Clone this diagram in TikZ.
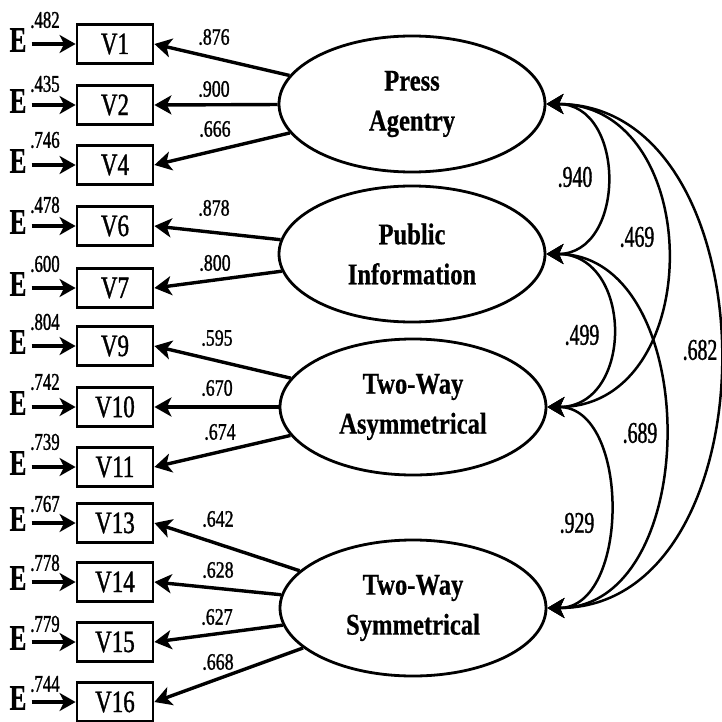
\documentclass[tikz,border=0pt]{standalone}
\usepackage{fontspec}
\setmainfont{Liberation Serif}
\newfontfamily\fontlat[FakeStretch=0.82,FakeBold=0.6]{Liberation Serif}
\newfontfamily\fontobs[FakeStretch=0.74,FakeBold=1.2]{Liberation Serif}
\newfontfamily\fonterr[FakeStretch=0.7,FakeBold=0.8]{Liberation Serif}
\newfontfamily\fontload[FakeStretch=0.76,FakeBold=1.2]{Liberation Serif}
\newfontfamily\fontvar[FakeStretch=0.7,FakeBold=1.2]{Liberation Serif}
\newfontfamily\fontcov[FakeStretch=0.66,FakeBold=1.2]{Liberation Serif}
\usetikzlibrary{shapes.geometric,arrows.meta}

\begin{document}
\begin{tikzpicture}[x=1pt,y=-1pt,
  latent/.style={ellipse,draw,line width=2.8pt,minimum width=266pt,minimum height=136pt,
    inner sep=0pt,align=center,font=\fontlat\bfseries\fontsize{30}{40}\selectfont},
  obs/.style={rectangle,draw,line width=2.8pt,minimum width=76pt,minimum height=39pt,
    inner sep=0pt,font=\fontobs\fontsize{31}{31}\selectfont},
  err/.style={inner sep=0pt,font=\fonterr\bfseries\fontsize{36}{36}\selectfont},
  varlab/.style={inner sep=0pt,font=\fontvar\fontsize{24}{24}\selectfont},
  loadlab/.style={inner sep=0pt,font=\fontload\fontsize{23.5}{24}\selectfont},
  covlab/.style={inner sep=0pt,font=\fontcov\fontsize{30}{30}\selectfont},
  bighead/.tip={Stealth[length=17pt,width=19pt,inset=4.5pt]},
  load/.style={line width=3.4pt,-bighead},
  errarrow/.style={line width=3.4pt,-{Stealth[length=16pt,width=18pt,inset=4.5pt]},shorten <=5pt},
  cov/.style={line width=2.5pt,{Stealth[length=17pt,width=20pt,inset=4.5pt]}-{Stealth[length=17pt,width=20pt,inset=4.5pt]}}
]
\useasboundingbox (0,0) rectangle (721,722);

% latent factors
\node[latent] (PA)  at (412,104) {Press\\Agentry};
\node[latent] (PI)  at (412,254) {Public\\Information};
\node[latent] (TWA) at (413,407) {Two-Way\\Asymmetrical};
\node[latent] (TWS) at (413,608) {Two-Way\\Symmetrical};

% observed indicators with their error terms
\foreach \n/\y/\ev/\ey in {1/44/.482/20, 2/105/.435/84, 4/165/.746/140, 6/226/.478/205,
    7/288/.600/264, 9/346/.804/322, 10/407/.742/382, 11/467/.739/442,
    13/523/.767/504, 14/582/.778/563, 15/642/.779/624, 16/702/.744/684}{
  \node[obs] (V\n) at (115,\y) {V\n};
  \node[err] (E\n) at (18,{\y-4}) {E};
  \node[varlab] (e\n) at (45,\ey) {\ev};
  \draw[errarrow] (E\n.east |- V\n.west) -- (V\n.west);
}

% factor loadings
\foreach \f/\n/\lab/\lx/\ly in {PA/1/.876/214/37, PA/2/.900/214/89, PA/4/.666/215/129,
    PI/6/.878/214/208, PI/7/.800/215/263,
    TWA/9/.595/217/338, TWA/10/.670/217/388, TWA/11/.674/220/432,
    TWS/13/.642/218/519, TWS/14/.628/218/570, TWS/15/.627/217/617, TWS/16/.668/218/662}{
  \draw[load] (\f) -- (V\n.east);
  \node[loadlab] (L\n) at (\lx,\ly) {\lab};
}

% factor covariances
\draw[cov] (PA.east)  .. controls +(80,0)  and +(80,0)  .. (PI.east);
\draw[cov] (PA.east)  .. controls +(160,0) and +(160,0) .. (TWA.east);
\draw[cov] (PA.east)  .. controls +(230,0) and +(230,0) .. (TWS.east);
\draw[cov] (PI.east)  .. controls +(87,0)  and +(87,0)  .. (TWA.east);
\draw[cov] (PI.east)  .. controls +(157,0) and +(157,0) .. (TWS.east);
\draw[cov] (TWA.east) .. controls +(83,0)  and +(83,0)  .. (TWS.east);

\node[covlab] (c1) at (575,177) {.940};
\node[covlab] (c2) at (637,237) {.469};
\node[covlab] (c3) at (700,350) {.682};
\node[covlab] (c4) at (582,335) {.499};
\node[covlab] (c5) at (640,433) {.689};
\node[covlab] (c6) at (577,523) {.929};
\end{tikzpicture}
\end{document}
